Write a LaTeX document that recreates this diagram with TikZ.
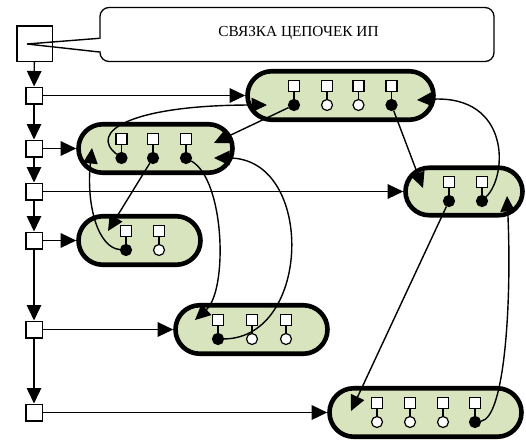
\documentclass[tikz,border=0pt]{standalone}
\usepackage{fontspec}
\setmainfont{Liberation Serif}
\usetikzlibrary{arrows.meta,shapes.misc}
\definecolor{capfill}{HTML}{D7E4BD}
% one element of a chain: a small square linked to a marker circle below it
\newcommand\ipcell[4]{%
  \node[cellsq] (#1q) at (#2,#3-9.5) {};
  \node[cellcirc,fill=#4] (#1c) at (#2,#3+9.5) {};
  \draw[stem] (#1q) -- (#1c);}
\begin{document}
\begin{tikzpicture}[x=1pt,y=-1pt,
  plain/.style={line width=1.4pt},
  conn/.style={line width=1.4pt,-{Triangle[length=15.5pt,width=14.5pt]}},
  colsq/.style={draw,line width=1.5pt,fill=white,minimum size=16.5pt,inner sep=0pt},
  capsule/.style={rounded rectangle,draw,line width=4.6pt,fill=capfill,
                  inner sep=0pt,minimum height=48.5pt},
  cellsq/.style={draw,line width=1.2pt,fill=white,minimum size=11pt,inner sep=0pt},
  cellcirc/.style={circle,draw,line width=1.2pt,minimum size=11pt,inner sep=0pt},
  stem/.style={line width=1.2pt}]
\useasboundingbox (0,0) rectangle (526,439);

% head of the list and the callout naming it
\node[draw,line width=1.5pt,minimum size=35.5pt,inner sep=0pt] (s0) at (34.5,43.5) {};
\node[draw,line width=1.3pt,rounded corners=9pt,minimum width=394pt,
      minimum height=54pt,inner sep=0pt] (title) at (297,34.5) {};
\node[font=\fontsize{15.3}{18}\selectfont,inner sep=0pt] (titletext) at (298.5,33)
      {СВЯЗКА ЦЕПОЧЕК ИП};
\fill[white] (99,38.9) rectangle (101.2,51.4);
\coordinate (ptip) at (27,44);
\draw[plain,line join=miter] (title.west |- 0,38.3) -- (ptip) -- (title.west |- 0,52);

% index column
\node[colsq] (s1) at (34,95.5) {};
\node[colsq] (s2) at (34,148.5) {};
\node[colsq] (s3) at (34,191.5) {};
\node[colsq] (s4) at (34,240.5) {};
\node[colsq] (s5) at (34,329.5) {};
\node[colsq] (s6) at (34,412.5) {};
\draw[conn] (s0) -- (s1);
\draw[conn] (s1) -- (s2);
\draw[conn] (s2) -- (s3);
\draw[conn] (s3) -- (s4);
\draw[conn] (s4) -- (s5);
\draw[conn] (s5) -- (s6);

% chains
\node[capsule,minimum width=186pt] (k1) at (340.5,95.5) {};
\node[capsule,minimum width=154pt] (k2) at (155.5,148.5) {};
\node[capsule,minimum width=122pt] (k3) at (139.5,240.5) {};
\node[capsule,minimum width=117pt,minimum height=47.5pt] (k4) at (464,191.5) {};
\node[capsule,minimum width=152pt] (k5) at (251.5,329.5) {};
\node[capsule,minimum width=192pt] (k6) at (425.5,412.5) {};

\draw[conn] (s1) -- (k1);
\draw[conn] (s2) -- (k2);
\draw[conn] (s3) -- (k4);
\draw[conn] (s4) -- (k3);
\draw[conn] (s5) -- (k5);
\draw[conn] (s6) -- (k6);

\ipcell{a1}{294}{95.5}{black}
\ipcell{a2}{327}{95.5}{white}
\ipcell{a3}{358.5}{95.5}{white}
\ipcell{a4}{391.5}{95.5}{black}

\ipcell{b1}{121.5}{148.5}{black}
\ipcell{b2}{153}{148.5}{black}
\ipcell{b3}{186}{148.5}{black}

\ipcell{c1}{126}{240.5}{black}
\ipcell{c2}{159}{240.5}{white}

\ipcell{d1}{449}{191.5}{black}
\ipcell{d2}{482}{191.5}{black}

\ipcell{e1}{218}{329.5}{black}
\ipcell{e2}{252}{329.5}{white}
\ipcell{e3}{286}{329.5}{white}

\ipcell{f1}{377}{412.5}{white}
\ipcell{f2}{410}{412.5}{white}
\ipcell{f3}{443}{412.5}{white}
\ipcell{f4}{475}{412.5}{black}

% entry points of the links inside the chains
\coordinate (in1) at (214,143);
\coordinate (in2) at (267,105);
\coordinate (in3) at (108,231);
\coordinate (in4) at (92,148);
\coordinate (in5) at (195,320);
\coordinate (in6) at (214,158);
\coordinate (in7) at (423,188);
\coordinate (in8) at (417,100);
\coordinate (in9) at (351,411);
\coordinate (in10) at (507,196);

% links between chains
\draw[conn] (a1c) -- (in1);
\draw[conn] (b1c) .. controls (88,132) and (130,105) .. (in2);
\draw[conn] (b2c) -- (in3);
\draw[conn] (c1c) .. controls (98,248) and (86,205) .. (in4);
\draw[conn] (b3c) .. controls (225,180) and (228,290) .. (in5);
\draw[conn] (e1c) .. controls (312,338) and (315,158) .. (in6);
\draw[conn] (a4c) -- (in7);
\draw[conn] (d2c) .. controls (508,175) and (510,95) .. (in8);
\draw[conn] (d1c) -- (in9);
\draw[conn] (f4c) .. controls (505,418) and (512,300) .. (in10);
\end{tikzpicture}
\end{document}
